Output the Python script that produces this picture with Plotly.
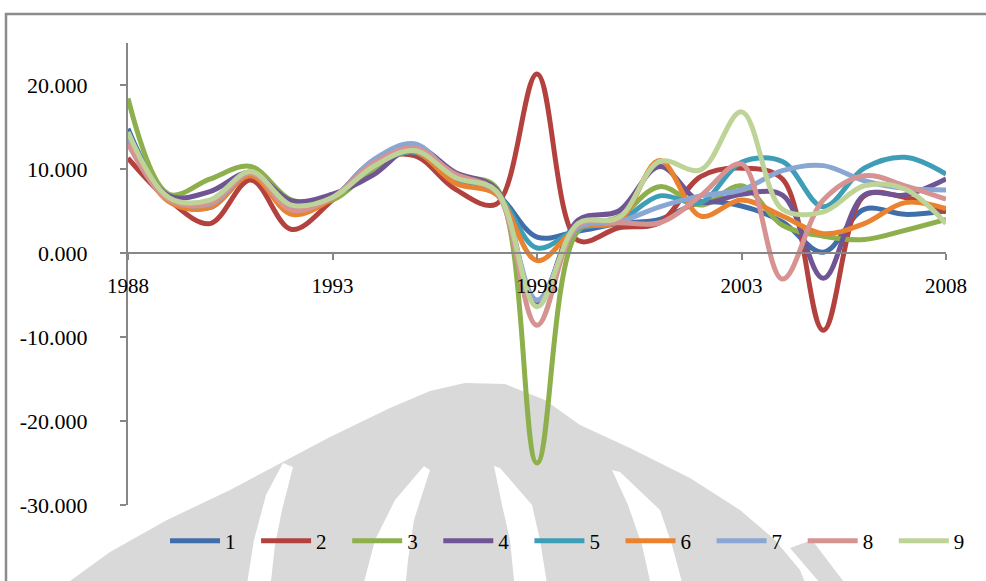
import plotly.graph_objects as go

years = list(range(1988, 2009))
names = ["1", "2", "3", "4", "5", "6", "7", "8", "9"]

s1 = [14.8, 6.5, 5.6, 9.3, 4.9, 6.6, 10.6, 12.0, 8.6, 7.1, 1.9, 2.6, 3.5, 4.0, 6.0, 5.6, 3.7, 0.1, 5.2, 4.6, 5.0]
s2 = [11.3, 6.3, 3.5, 8.7, 2.8, 6.3, 10.9, 11.6, 7.6, 5.8, 21.3, 1.5, 3.0, 3.6, 9.1, 10.1, 8.8, -9.2, 6.8, 6.6, 4.9]
s3 = [18.4, 7.0, 8.8, 10.3, 6.3, 6.3, 10.0, 12.1, 9.2, 7.8, -25.0, 2.6, 4.3, 7.9, 5.7, 8.0, 3.3, 2.0, 1.6, 2.7, 4.0]
s4 = [14.0, 6.8, 7.3, 9.6, 6.2, 7.0, 9.3, 12.7, 9.6, 7.6, -6.2, 3.9, 5.0, 10.3, 6.1, 7.0, 6.9, -3.0, 6.9, 6.9, 8.8]
s5 = [14.2, 6.2, 5.4, 9.3, 4.7, 6.6, 10.5, 12.0, 8.5, 7.1, 0.6, 2.9, 3.8, 6.8, 6.0, 10.8, 10.9, 5.5, 10.1, 11.4, 9.4]
s6 = [13.6, 6.1, 5.4, 9.2, 4.6, 6.5, 10.7, 12.1, 8.3, 7.0, -0.9, 3.0, 3.8, 11.0, 4.4, 6.3, 4.4, 2.3, 3.5, 6.0, 5.3]
s7 = [13.9, 6.5, 5.8, 9.5, 5.4, 6.6, 11.1, 13.0, 9.1, 7.3, -5.6, 3.0, 3.7, 5.5, 6.8, 7.5, 9.8, 10.4, 8.6, 7.7, 7.5]
s8 = [13.0, 6.3, 5.9, 9.5, 5.1, 6.6, 10.7, 12.5, 9.4, 7.3, -8.6, 3.3, 3.6, 3.6, 6.8, 10.6, -3.1, 6.3, 9.2, 8.0, 6.4]
s9 = [14.4, 6.6, 6.3, 9.7, 5.7, 6.6, 10.3, 12.2, 9.0, 7.4, -6.4, 3.5, 4.2, 10.9, 9.9, 16.8, 5.2, 4.9, 8.0, 7.6, 3.5]

series = [s1, s2, s3, s4, s5, s6, s7, s8, s9]
colors = ["#3F6EAA", "#B3423F", "#8DAF4C", "#6F5593", "#3E9DB7",
          "#E9832F", "#8AA7D3", "#D69391", "#BDD398"]

x_ticks = [1988, 1993, 1998, 2003, 2008]
y_ticks = [-30, -20, -10, 0, 10, 20]
y_ticktext = [f"{v:.3f}" for v in y_ticks]

FONT = "Liberation Serif, Times New Roman, serif"
AXIS_GRAY = "#878787"
WM_GRAY = "#D9D9D9"

W, H = 986, 581
ML, MR, MT, MB = 128, 40, 43, 76
PW, PH = W - ML - MR, H - MT - MB


def px(x, y):
    """pixel position -> paper coordinates"""
    return (x - ML) / PW, (H - MB - y) / PH


def path_from_px(points):
    parts = []
    for i, (x, y) in enumerate(points):
        u, v = px(x, y)
        parts.append(("M" if i == 0 else "L") + f"{u:.5f},{v:.5f}")
    return " ".join(parts) + " Z"


# faint watermark emblem behind the chart (page background)
dome = [(70, 590), (70, 581), (110, 552), (167, 520), (230, 490), (277, 465),
        (330, 437), (390, 408), (430, 391), (465, 383), (505, 384), (545, 400),
        (580, 425), (630, 448), (690, 478), (740, 510), (775, 540), (800, 570),
        (808, 590)]
diag = [(790, 548), (812, 540), (850, 590), (826, 590)]
stripes = [
    [(283, 463), (293, 467), (282, 510), (275, 545), (270, 590), (246, 590), (254, 540), (266, 495)],
    [(424, 466), (430, 470), (414, 520), (408, 560), (405, 590), (362, 590), (375, 540), (395, 500)],
    [(494, 466), (500, 468), (532, 505), (540, 540), (548, 590), (515, 590), (510, 540), (502, 505)],
    [(612, 470), (620, 472), (660, 510), (672, 545), (684, 590), (652, 590), (642, 545), (628, 505)],
]

shapes = [dict(type="path", xref="paper", yref="paper", path=path_from_px(dome),
               fillcolor=WM_GRAY, line=dict(width=0), layer="below"),
          dict(type="path", xref="paper", yref="paper", path=path_from_px(diag),
               fillcolor=WM_GRAY, line=dict(width=0), layer="below")]
for st in stripes:
    shapes.append(dict(type="path", xref="paper", yref="paper", path=path_from_px(st),
                       fillcolor="white", line=dict(width=0), layer="below"))
fx0, fy0 = px(6, 600)
fx1, fy1 = px(1000, 14)
shapes.append(dict(type="rect", xref="paper", yref="paper", x0=fx0, x1=fx1, y0=fy0, y1=fy1,
                   line=dict(color="#8C8C8C", width=2.5), fillcolor="rgba(0,0,0,0)",
                   layer="below"))

fig = go.Figure()
legend_ids = ["legend"] + [f"legend{i}" for i in range(2, 10)]
for name, vals, col, lid in zip(names, series, colors, legend_ids):
    fig.add_trace(go.Scatter(
        x=years, y=vals, mode="lines", name=name, legend=lid,
        line=dict(color=col, width=5, shape="spline", smoothing=1.0),
    ))

legend_layout = {}
for i, lid in enumerate(legend_ids):
    lx, ly = px(165 + i * 91.1, 541)
    legend_layout[lid] = dict(
        orientation="h", x=lx, y=ly, xanchor="left", yanchor="middle",
        font=dict(family=FONT, size=21, color="black"),
        itemwidth=50, bgcolor="rgba(0,0,0,0)",
    )

y_min, y_max = -30, 25
fig.update_layout(
    width=W, height=H,
    margin=dict(l=ML, r=MR, t=MT, b=MB),
    paper_bgcolor="white", plot_bgcolor="rgba(0,0,0,0)",
    font=dict(family=FONT, size=21, color="black"),
    showlegend=True,
    xaxis=dict(
        range=[1988, 2008], tickvals=x_ticks, ticktext=[str(t) for t in x_ticks],
        anchor="free", position=(0 - y_min) / (y_max - y_min),
        showline=True, linecolor=AXIS_GRAY, linewidth=2,
        ticks="outside", ticklen=6, tickwidth=2, tickcolor=AXIS_GRAY,
        showgrid=False, zeroline=False, ticklabelstandoff=8,
        tickfont=dict(family=FONT, size=21, color="black"),
    ),
    yaxis=dict(
        range=[y_min, y_max], tickvals=y_ticks, ticktext=y_ticktext,
        showline=True, linecolor=AXIS_GRAY, linewidth=2,
        ticks="outside", ticklen=6, tickwidth=2, tickcolor=AXIS_GRAY,
        showgrid=False, zeroline=False, ticklabelstandoff=28,
        tickfont=dict(family=FONT, size=22, color="black"),
    ),
    shapes=shapes,
    **legend_layout,
)

fig.write_html("out.html")
